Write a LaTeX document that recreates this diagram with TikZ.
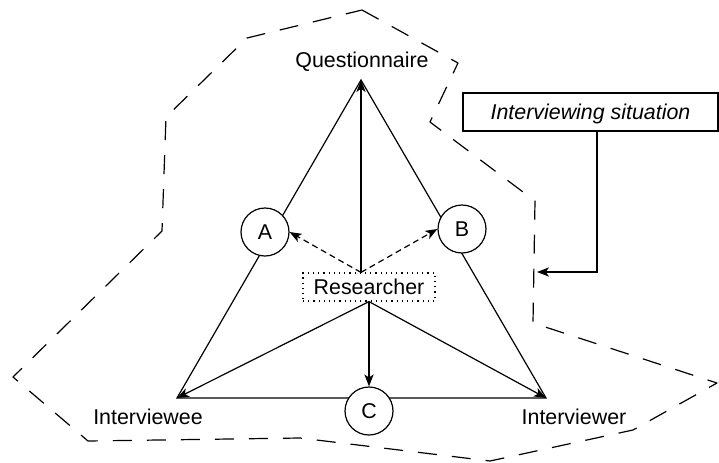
\documentclass[tikz,border=0pt]{standalone}
\usepackage{fontspec}
\setmainfont{Liberation Sans}
\usetikzlibrary{arrows.meta}
\begin{document}
\begin{tikzpicture}[x=0.5pt,y=-0.5pt,
  every node/.style={font=\fontsize{10.7}{12}\selectfont},
  ln/.style={line width=0.6pt},
  arr/.style={ln,-{Stealth[length=6pt,width=4.6pt,inset=1.6pt]}},
  darr/.style={arr,dash pattern=on 3pt off 2pt},
  circ/.style={circle,draw,line width=0.6pt,fill=white,minimum size=24pt,inner sep=0pt},
  lab/.style={inner sep=0pt,anchor=base},
  bound/.style={line width=0.6pt,dash pattern=on 9.5pt off 7.5pt,line join=round}
]
\useasboundingbox (0,0) rectangle (719,462);
% vertices
\coordinate (Q) at (361,80);
\coordinate (E) at (177,398);
\coordinate (W) at (546,398);
% labels
\node[lab] (lq) at (362,67) {Questionnaire};
\node[lab] (le) at (148,424) {Interviewee};
\node[lab] (lw) at (574,424) {Interviewer};
% triangle
\draw[ln] (Q) -- (E) -- (W) -- cycle;
% circles
\node[circ] (A) at (265,232) {A};
\node[circ] (B) at (462,229) {B};
\node[circ] (C) at (369,411) {C};
% researcher
\node[draw,dotted,line width=0.6pt,minimum width=66pt,minimum height=14pt,inner sep=0pt] (R) at (369,287) {Researcher};
\coordinate (rt) at ([xshift=-4pt]R.north);
\draw[arr] (rt) -- (Q);
\draw[darr] (rt) -- (A.east);
\draw[darr] (rt) -- (B.west);
\draw[arr] (R.south) -- (E);
\draw[arr] (R.south) -- (C.north);
\draw[arr] (R.south) -- (W);
% interviewing situation
\node[draw,line width=0.6pt,minimum width=127.5pt,minimum height=19pt,inner sep=0pt,text depth=0pt] (IS) at (590.5,112) {\itshape Interviewing situation};
\coordinate (isb) at (597,131);
\coordinate (tip) at (537,272);
\draw[arr] (isb) |- (tip);
% boundary
\draw[bound] (362,10) -- (458,63) -- (430,122) -- (535,201) -- (533,323) -- (717,383) -- (633,430) -- (490,461) -- (300,438) -- (88,441) -- (13,377) -- (162,231) -- (166,117) -- (247,38) -- cycle;
\end{tikzpicture}
\end{document}
